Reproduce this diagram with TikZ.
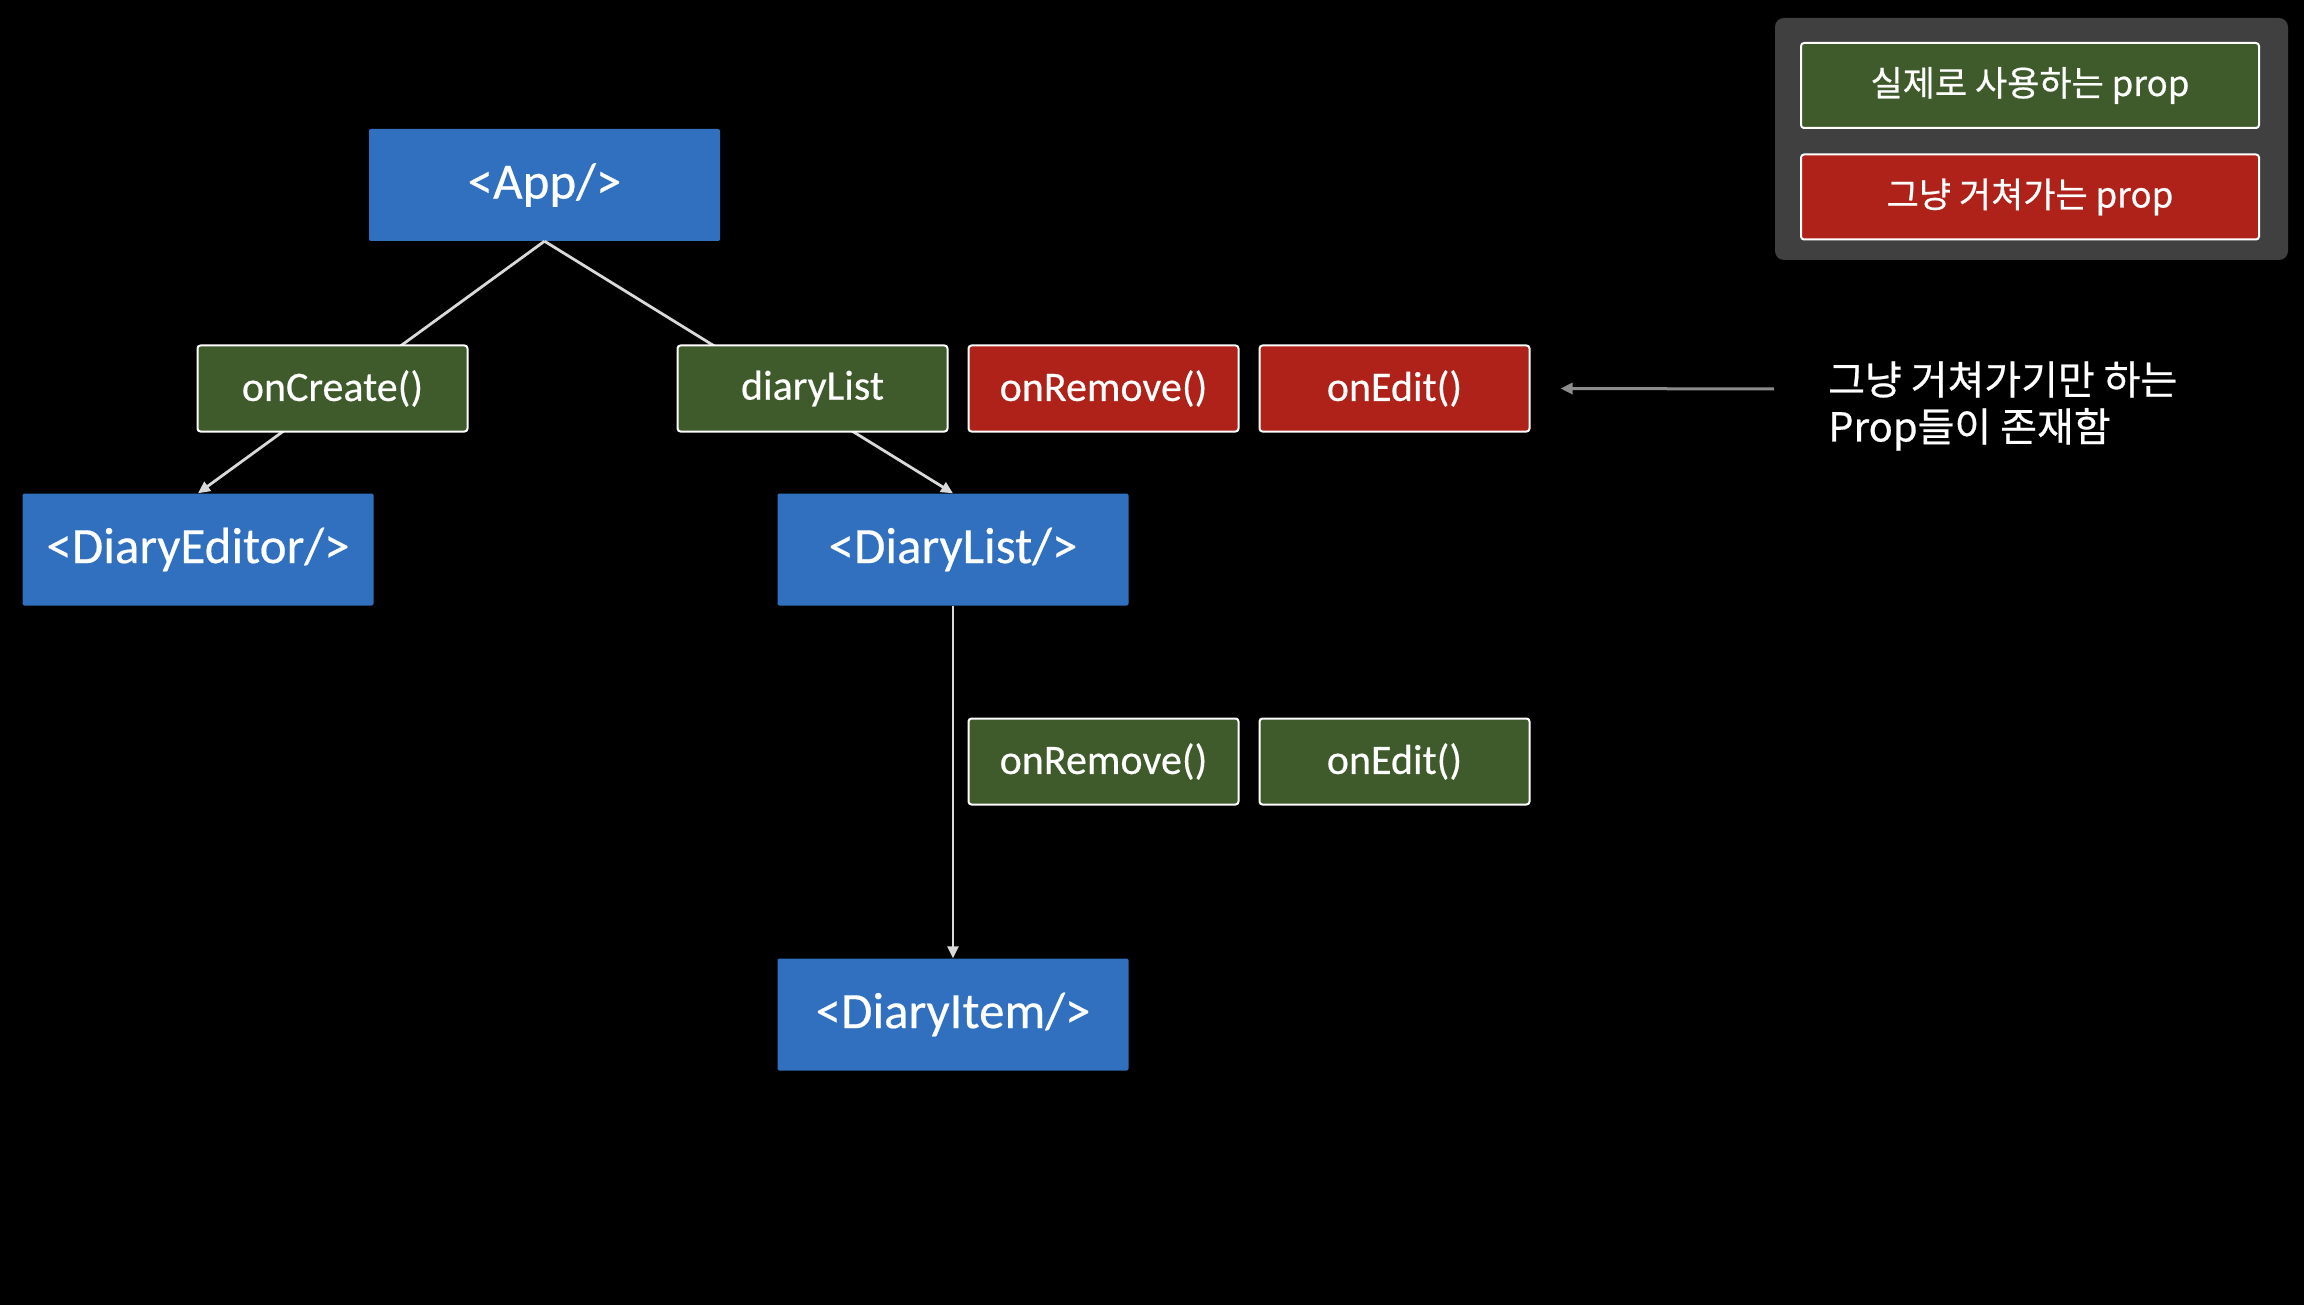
\documentclass[tikz,border=0pt]{standalone}
\usepackage{fontspec}
\setmainfont[FakeBold=0.4]{Carlito}
\newfontfamily\kr[FakeBold=0.6]{Noto Sans CJK KR}
\usetikzlibrary{arrows.meta}
\definecolor{cblue}{HTML}{3070BF}
\definecolor{cgreen}{HTML}{3F5A2B}
\definecolor{cred}{HTML}{AE2219}
\definecolor{legbg}{HTML}{404040}
\definecolor{linec}{HTML}{D9D9D9}
\definecolor{ptrc}{HTML}{8C8C8C}
\begin{document}
\begin{tikzpicture}[x=1pt,y=-1pt,
  comp/.style={fill=cblue, rounded corners=2pt, text=white, inner sep=0pt,
    font=\fontsize{51}{58}\selectfont, minimum width=351pt, minimum height=112pt},
  propbox/.style={draw=white, line width=2pt, rounded corners=3pt, text=white, inner sep=0pt,
    font=\fontsize{42}{48}\selectfont, minimum width=270pt, minimum height=86pt},
  usebox/.style={propbox, fill=cgreen},
  passbox/.style={propbox, fill=cred},
  legbox/.style={draw=white, line width=2pt, rounded corners=3pt, text=white, inner sep=0pt,
    font=\kr\fontsize{35}{40}\selectfont, minimum width=458pt, minimum height=85pt},
  conn/.style={draw=linec, line width=2.8pt, -{Triangle[length=12pt,width=11pt]}},
  ptr/.style={draw=ptrc, line width=3pt, -{Triangle[length=12pt,width=11pt]}}
]
\fill[black] (0,0) rectangle (2304,1305);
\useasboundingbox (0,0) rectangle (2304,1305);

% components
\node[comp] (app) at (544.5,185) {<App/>};
\node[comp] (editor) at (198,549.5) {<DiaryEditor/>};
\node[comp] (list) at (953,549.5) {<DiaryList/>};
\node[comp] (item) at (953,1014.5) {<DiaryItem/>};

% connectors
\draw[conn] (app.south) -- (editor.north);
\draw[conn] (app.south) -- (list.north);
\draw[conn] (list.south) -- (item.north);

% props
\node[usebox] (create) at (332.5,388.5) {onCreate()};
\node[usebox] (dlist) at (812.5,388.5) {diaryList};
\node[passbox] (premove) at (1103.5,388.5) {onRemove()};
\node[passbox] (pedit) at (1394.5,388.5) {onEdit()};
\node[usebox] (gremove) at (1103.5,761.5) {onRemove()};
\node[usebox] (gedit) at (1394.5,761.5) {onEdit()};

% legend
\fill[legbg, rounded corners=9pt] (1775,18) rectangle (2288,260);
\node[legbox, fill=cgreen] (leguse) at (2030,85.5) {실제로 사용하는 prop};
\node[legbox, fill=cred] (legpass) at (2030,197) {그냥 거쳐가는 prop};

% annotation
\node[anchor=west, align=left, text=white, inner sep=0pt,
  font=\kr\fontsize{40}{47}\selectfont] (note) at (1828,406)
  {그냥 거쳐가기만 하는\\Prop들이 존재함};
\coordinate (ns) at (1774,389);
\draw[ptr] (ns) -- ([xshift=30pt]pedit.east);
\end{tikzpicture}
\end{document}
